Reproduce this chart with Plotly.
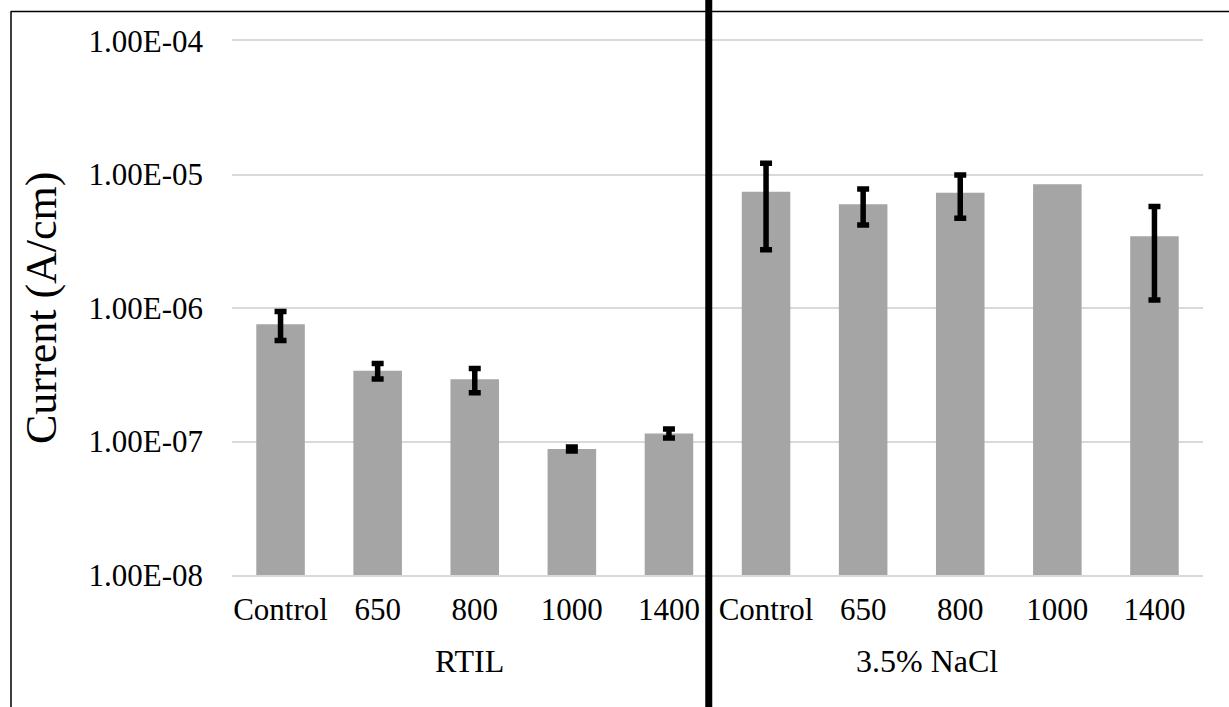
import plotly.graph_objects as go

# Corrosion current by heat-treatment temperature, two electrolytes
groups = ["RTIL", "3.5% NaCl"]
conditions = ["Control", "650", "800", "1000", "1400"]

rtil_current = [7.55e-7, 3.39e-7, 2.92e-7, 8.8e-8, 1.15e-7]
rtil_error = [1.85e-7, 0.45e-7, 0.60e-7, 0.03e-7, 0.09e-7]

nacl_current = [7.43e-6, 5.98e-6, 7.31e-6, 8.45e-6, 3.45e-6]
nacl_error = [4.7e-6, 1.8e-6, 2.6e-6, None, 2.3e-6]

y_tick_values = [1e-8, 1e-7, 1e-6, 1e-5, 1e-4]
y_tick_text = ["1.00E-08", "1.00E-07", "1.00E-06", "1.00E-05", "1.00E-04"]

FONT = "Liberation Serif, Times New Roman, serif"
W, H = 1229, 707
ML, MR, MT, MB = 232, 26, 41, 132
PW, PH = W - ML - MR, H - MT - MB

values = rtil_current + nacl_current
errors = rtil_error + nacl_error
xpos = list(range(len(values)))
tick_text = conditions + conditions

fig = go.Figure(
    go.Bar(
        x=xpos,
        y=values,
        marker=dict(color="#A5A5A5", line=dict(width=0)),
        hoverinfo="skip",
    )
)

# Error bars only where a spread was measured
err_x = [x for x, e in zip(xpos, errors) if e is not None]
err_y = [v for v, e in zip(values, errors) if e is not None]
err_v = [e for e in errors if e is not None]
fig.add_trace(
    go.Scatter(
        x=err_x, y=err_y, mode="markers",
        marker=dict(size=1, opacity=0),
        error_y=dict(type="data", array=err_v, symmetric=True,
                     color="black", thickness=5.5, width=6),
        hoverinfo="skip",
    )
)

fig.update_layout(
    width=W, height=H,
    margin=dict(l=ML, r=MR, t=MT, b=MB),
    paper_bgcolor="white", plot_bgcolor="white",
    bargap=0.5, showlegend=False,
    font=dict(family=FONT, size=31, color="black"),
)

fig.update_xaxes(
    range=[-0.5, len(values) - 0.5],
    tickmode="array", tickvals=xpos, ticktext=tick_text,
    tickfont=dict(family=FONT, size=31, color="black"),
    showgrid=False, zeroline=False,
    showline=True, linecolor="#D9D9D9", linewidth=1.5, mirror=True,
    ticks="", ticklabelstandoff=6,
)

fig.update_yaxes(
    type="log", range=[-8, -4],
    tickmode="array", tickvals=y_tick_values, ticktext=y_tick_text,
    tickfont=dict(family=FONT, size=31, color="black"),
    showgrid=True, gridcolor="#D9D9D9", gridwidth=1.5,
    zeroline=False, showline=False, ticks="", ticklabelstandoff=28,
)

# Axis title
fig.add_annotation(
    text="Current (A/cm)", textangle=-90,
    xref="paper", yref="paper", x=(41 - ML) / PW, y=0.5,
    xanchor="center", yanchor="middle", showarrow=False,
    font=dict(family=FONT, size=44, color="black"),
)

# Group labels under the category labels
group_x = [1.95, 6.66]
for label, gx in zip(groups, group_x):
    fig.add_annotation(
        text=label, xref="x", yref="paper", x=gx, y=-(661 - (MT + PH)) / PH,
        xanchor="center", yanchor="middle", showarrow=False,
        font=dict(family=FONT, size=32, color="black"),
    )

# Heavy divider between the two electrolytes
fig.add_shape(
    type="line", xref="x", yref="paper",
    x0=4.41, x1=4.41, y0=-MB / PH, y1=1 + MT / PH,
    line=dict(color="black", width=7),
)

# Frame lines along the top and left edges
def px_to_paper_x(px):
    return (px - ML) / PW

def px_to_paper_y(py):
    return (MT + PH - py) / PH

fig.add_shape(type="line", xref="paper", yref="paper",
              x0=px_to_paper_x(11), x1=px_to_paper_x(W + 5),
              y0=px_to_paper_y(11.5), y1=px_to_paper_y(11.5),
              line=dict(color="black", width=1.5))
fig.add_shape(type="line", xref="paper", yref="paper",
              x0=px_to_paper_x(11), x1=px_to_paper_x(11),
              y0=px_to_paper_y(11), y1=px_to_paper_y(H + 5),
              line=dict(color="black", width=1.5))

fig.write_html("out.html")
